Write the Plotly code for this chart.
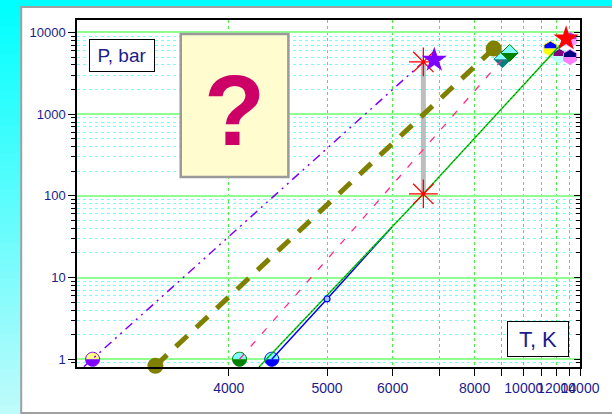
import math
import plotly.graph_objects as go

# ---------------- data (temperature in K, pressure in bar) ----------------
purple_T = [3090, 6620]
purple_P = [0.81, 4350]

olive_T = [3481, 8674]
olive_P = [0.83, 6340]

pink_T = [4090, 9021]
pink_P = [1.0, 4700]

blue_T = [4384, 5000, 5973]
blue_P = [1.0, 5.47, 40.5]

green_T = [4263, 6620, 12740]
green_P = [0.805, 105.5, 8395]

bar_T = [6620, 6620]
bar_P = [4350, 105.5]

star_T = [6873, 12740]
star_P = [4605, 8395]
star_colors = ["#8000ff", "#ff0000"]

small_T = [5000]
small_P = [5.47]

# half-filled circles
circ_T = [3133, 4090, 4384]
circ_P = [1.0, 1.0, 1.0]
circ_top = ["#ffff80", "#80ffff", "#80ffff"]
circ_bottom = ["#8000ff", "#008000", "#0000ff"]

# half-filled diamonds
diam_T = [9021, 9329]
diam_P = [4700, 5610]
diam_top = ["#80ffff", "#80ffff"]
diam_bottom = ["#008080", "#008000"]

# half-filled hexagons
hex_T = [13094, 11565, 12219, 13069]
hex_P = [8170, 6340, 5155, 5012]
hex_top = ["#9933ff", "#0000ff", "#800080", "#000080"]
hex_bottom = ["#ff99ff", "#ffff00", "#c0ffff", "#ff80ff"]

# axis ticks
x_tick_T = [4000, 5000, 6000, 8000, 10000, 12000, 14000]
x_minor_T = [7000, 9000, 11000, 13000]
y_ticks = [1, 10, 100, 1000, 10000]
y_minor = [m * 10 ** k for k in range(-1, 4) for m in range(2, 10)] + [0.9]


def inv(T_list):
    """Abscissa used for plotting: 10^4 / T (axis reversed)."""
    return [1e4 / t for t in T_list]


NAVY = "#1c1c8c"
FONT = "Liberation Sans, Arial, sans-serif"

fig = go.Figure()

# gray bar joining the two asterisks
fig.add_trace(go.Scatter(x=inv(bar_T), y=bar_P, mode="lines",
                         line=dict(color="#bdbdbd", width=5)))
# lines
fig.add_trace(go.Scatter(x=inv(purple_T), y=purple_P, mode="lines",
                         line=dict(color="#8000ff", width=1.5,
                                   dash="9px,5px,2px,5px,2px,5px")))
fig.add_trace(go.Scatter(x=inv(olive_T), y=olive_P, mode="lines",
                         line=dict(color="#808000", width=5, dash="16px,12px")))
fig.add_trace(go.Scatter(x=inv(pink_T), y=pink_P, mode="lines",
                         line=dict(color="#ff2a8a", width=1.3, dash="7px,10px")))
fig.add_trace(go.Scatter(x=inv(blue_T), y=blue_P, mode="lines",
                         line=dict(color="#0000ff", width=1.5)))
fig.add_trace(go.Scatter(x=inv(green_T), y=green_P, mode="lines",
                         line=dict(color="#10d010", width=1.6)))
fig.add_trace(go.Scatter(x=inv(green_T), y=green_P, mode="lines",
                         line=dict(color="#000000", width=0.8, dash="1px,3px")))

# markers
fig.add_trace(go.Scatter(x=inv(olive_T), y=olive_P, mode="markers", cliponaxis=False,
                         marker=dict(symbol="circle", size=16, color="#808000")))
fig.add_trace(go.Scatter(x=inv(small_T), y=small_P, mode="markers", cliponaxis=False,
                         marker=dict(symbol="circle", size=6, color="#a0c8ff",
                                     line=dict(color="#0000ff", width=1.2))))
fig.add_trace(go.Scatter(x=inv(bar_T), y=bar_P, mode="markers", cliponaxis=False,
                         marker=dict(symbol="asterisk-open", size=24, color="#ff0000",
                                     line=dict(color="#ff0000", width=1.3))))
fig.add_trace(go.Scatter(x=inv(star_T), y=star_P, mode="markers", cliponaxis=False,
                         marker=dict(symbol="star", size=19, color=star_colors,
                                     line=dict(width=0))))
# dummy trace for the right-hand axis
fig.add_trace(go.Scatter(x=[None], y=[None], yaxis="y2"))


def poly(pts):
    return "M " + " L ".join(f"{x:.2f},{y:.2f}" for x, y in pts) + " Z"


def half_marker(u, p, top_pts, bot_pts, full_pts, ctop, cbot):
    base = dict(type="path", xref="x", yref="y", xsizemode="pixel",
                ysizemode="pixel", xanchor=u, yanchor=p, layer="between")
    return [
        dict(base, path=poly(top_pts), fillcolor=ctop, line=dict(width=0)),
        dict(base, path=poly(bot_pts), fillcolor=cbot, line=dict(width=0)),
        dict(base, path=poly(full_pts), fillcolor="rgba(0,0,0,0)",
             line=dict(color=cbot, width=1)),
    ]


shapes = []

# circles
r = 7
n = 18
c_top = [(r * math.cos(math.pi * i / n), r * math.sin(math.pi * i / n)) for i in range(n + 1)]
c_bot = [(r * math.cos(math.pi + math.pi * i / n), r * math.sin(math.pi + math.pi * i / n))
         for i in range(n + 1)]
c_full = [(r * math.cos(2 * math.pi * i / (2 * n)), r * math.sin(2 * math.pi * i / (2 * n)))
          for i in range(2 * n)]
for t, p, ct, cb in zip(circ_T, circ_P, circ_top, circ_bottom):
    shapes += half_marker(1e4 / t, p, c_top, c_bot, c_full, ct, cb)

# diamonds
d = 8.5
d_top = [(d, 0), (0, d), (-d, 0)]
d_bot = [(d, 0), (0, -d), (-d, 0)]
d_full = [(d, 0), (0, d), (-d, 0), (0, -d)]
for t, p, ct, cb in zip(diam_T, diam_P, diam_top, diam_bottom):
    shapes += half_marker(1e4 / t, p, d_top, d_bot, d_full, ct, cb)

# hexagons (pointy top)
h = 7.5
hx = h * math.cos(math.pi / 6)
h_top = [(hx, 0), (hx, h / 2), (0, h), (-hx, h / 2), (-hx, 0)]
h_bot = [(hx, 0), (hx, -h / 2), (0, -h), (-hx, -h / 2), (-hx, 0)]
h_full = [(hx, h / 2), (0, h), (-hx, h / 2), (-hx, -h / 2), (0, -h), (hx, -h / 2)]
for t, p, ct, cb in zip(hex_T, hex_P, hex_top, hex_bottom):
    shapes += half_marker(1e4 / t, p, h_top, h_bot, h_full, ct, cb)

# ---- page decoration in paper coordinates ----
L, R, T, B = 77, 591, 20, 367
W, H = R - L, B - T


def xp(px):
    return (px - L) / W


def yp(py):
    return (B - py) / H


bands = 46
for i in range(bands):
    y0 = 414 * i / bands
    y1 = 414 * (i + 1) / bands + 0.5
    f = i / (bands - 1)
    col = f"rgb({int(0 + 190 * f)},{int(255 - 4 * f)},{int(255 - 4 * f)})"
    shapes.append(dict(type="rect", xref="paper", yref="paper", layer="below",
                       x0=xp(-5), x1=xp(620), y0=yp(y0), y1=yp(y1),
                       fillcolor=col, line=dict(width=0)))

shapes.append(dict(type="rect", xref="paper", yref="paper", layer="below",
                   x0=xp(20), x1=xp(640), y0=yp(7), y1=yp(413),
                   fillcolor="white", line=dict(color="#a0a0a0", width=2)))

shapes.append(dict(type="rect", xref="paper", yref="paper", layer="above",
                   x0=xp(183), x1=xp(293), y0=yp(34), y1=yp(177),
                   fillcolor="#fffcd0", line=dict(color="#9a9a9a", width=2.5)))

annotations = [
    dict(xref="paper", yref="paper", x=xp(238), y=yp(110), text="<b>?</b>",
         showarrow=False, xanchor="center", yanchor="middle",
         font=dict(family=FONT, size=100, color="#cc0066")),
    dict(xref="paper", yref="paper", x=xp(122.5), y=yp(55), text="P, bar",
         showarrow=False, xanchor="center", yanchor="middle",
         width=64, height=31, borderpad=0, borderwidth=1, bordercolor="black",
         bgcolor="white", font=dict(family=FONT, size=19, color=NAVY)),
    dict(xref="paper", yref="paper", x=xp(548), y=yp(339), text="T, K",
         showarrow=False, xanchor="center", yanchor="middle",
         width=60, height=34, borderpad=0, borderwidth=1, bordercolor="black",
         bgcolor="white", font=dict(family=FONT, size=22, color=NAVY)),
]

yrange = [-0.095, 4.152]

fig.update_layout(
    width=612, height=414,
    margin=dict(l=L, r=612 - R, t=T, b=414 - B),
    paper_bgcolor="#00ffff", plot_bgcolor="white",
    showlegend=False,
    shapes=shapes, annotations=annotations,
    xaxis=dict(
        range=[1e4 / 3057, 1e4 / 14000],
        tickvals=inv(x_tick_T), ticktext=[str(t) for t in x_tick_T],
        tickangle=0, ticks="outside", ticklen=7, tickcolor="black", tickwidth=1,
        tickfont=dict(family=FONT, size=14, color=NAVY),
        showline=True, linecolor="black", linewidth=1.5, mirror=True,
        showgrid=True, gridcolor="#44f044", griddash="dot", gridwidth=1,
        zeroline=False,
        minor=dict(tickvals=inv(x_minor_T), ticks="outside", ticklen=7,
                   tickcolor="black", showgrid=True, gridcolor="#44f044",
                   griddash="dot", gridwidth=1),
    ),
    yaxis=dict(
        type="log", range=yrange,
        tickvals=y_ticks, ticktext=[str(v) for v in y_ticks],
        ticks="outside", ticklen=7, tickcolor="black", tickwidth=1.2,
        tickfont=dict(family=FONT, size=13, color=NAVY),
        showline=True, linecolor="black", linewidth=1.5, mirror=True,
        showgrid=True, gridcolor="#90ff90", gridwidth=2,
        zeroline=False,
        minor=dict(tickvals=y_minor, ticks="outside", ticklen=4, tickcolor="black",
                   showgrid=True, gridcolor="#70ffff", griddash="dot", gridwidth=1),
    ),
    yaxis2=dict(
        type="log", range=yrange, overlaying="y", side="right", anchor="x",
        tickvals=y_ticks, showticklabels=False, ticks="inside", ticklen=6,
        tickcolor="black", showgrid=False, showline=False, zeroline=False,
        minor=dict(tickvals=y_minor, ticks="inside", ticklen=4, tickcolor="black",
                   showgrid=False),
    ),
)

fig.write_html("out.html")
